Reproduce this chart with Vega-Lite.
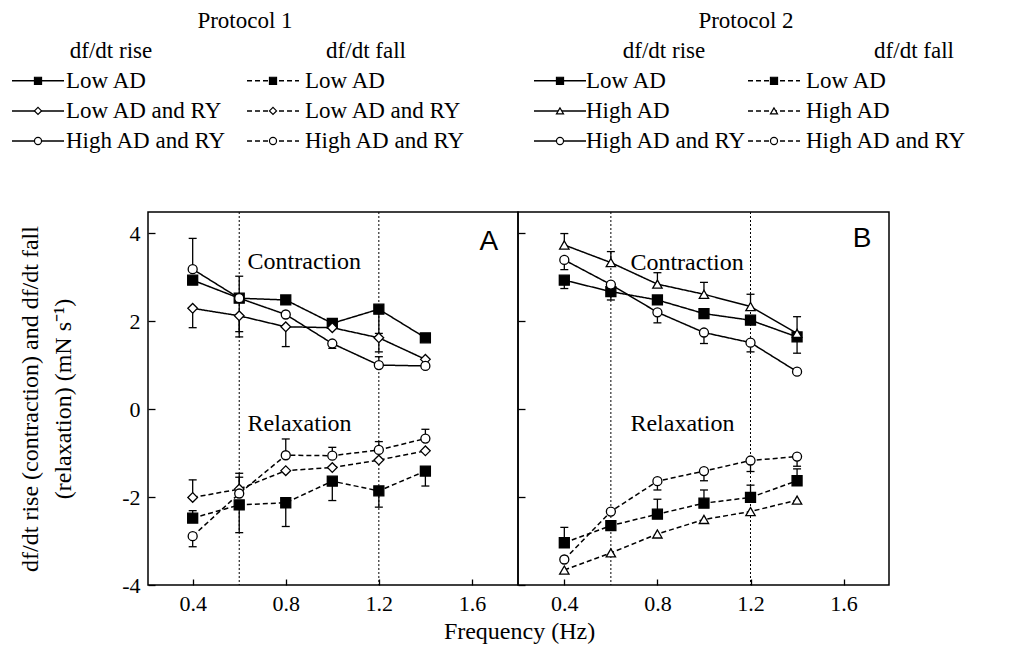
{
  "$schema": "https://vega.github.io/schema/vega-lite/v6.json",
  "background": "white",
  "padding": {"left": 8, "top": 8, "right": 5, "bottom": 0},
  "config": {
    "font": "Liberation Serif",
    "view": {"stroke": "black", "strokeWidth": 1.5},
    "axis": {"labelFont": "Liberation Serif", "labelFontSize": 22, "labelColor": "black", "titleFont": "Liberation Serif", "titleFontSize": 24, "titleFontWeight": "normal", "titleColor": "black", "tickColor": "black", "tickWidth": 1.3, "grid": false, "domain": false, "labelFlush": false, "labelOverlap": false}
  },
  "datasets": {
    "obs": [
      {"panel":"A","kind":"rise","series":"Low AD","freq":0.4,"value":2.93},
      {"panel":"A","kind":"rise","series":"Low AD","freq":0.6,"value":2.52},
      {"panel":"A","kind":"rise","series":"Low AD","freq":0.8,"value":2.48},
      {"panel":"A","kind":"rise","series":"Low AD","freq":1.0,"value":1.95},
      {"panel":"A","kind":"rise","series":"Low AD","freq":1.2,"value":2.27},
      {"panel":"A","kind":"rise","series":"Low AD","freq":1.4,"value":1.62},
      {"panel":"A","kind":"rise","series":"Low AD and RY","freq":0.4,"value":2.29},
      {"panel":"A","kind":"rise","series":"Low AD and RY","freq":0.6,"value":2.12},
      {"panel":"A","kind":"rise","series":"Low AD and RY","freq":0.8,"value":1.87},
      {"panel":"A","kind":"rise","series":"Low AD and RY","freq":1.0,"value":1.85},
      {"panel":"A","kind":"rise","series":"Low AD and RY","freq":1.2,"value":1.62},
      {"panel":"A","kind":"rise","series":"Low AD and RY","freq":1.4,"value":1.13},
      {"panel":"A","kind":"rise","series":"High AD and RY","freq":0.4,"value":3.18},
      {"panel":"A","kind":"rise","series":"High AD and RY","freq":0.6,"value":2.52},
      {"panel":"A","kind":"rise","series":"High AD and RY","freq":0.8,"value":2.15},
      {"panel":"A","kind":"rise","series":"High AD and RY","freq":1.0,"value":1.49},
      {"panel":"A","kind":"rise","series":"High AD and RY","freq":1.2,"value":1.0},
      {"panel":"A","kind":"rise","series":"High AD and RY","freq":1.4,"value":0.98},
      {"panel":"A","kind":"fall","series":"Low AD","freq":0.4,"value":-2.48},
      {"panel":"A","kind":"fall","series":"Low AD","freq":0.6,"value":-2.18},
      {"panel":"A","kind":"fall","series":"Low AD","freq":0.8,"value":-2.13},
      {"panel":"A","kind":"fall","series":"Low AD","freq":1.0,"value":-1.64},
      {"panel":"A","kind":"fall","series":"Low AD","freq":1.2,"value":-1.86},
      {"panel":"A","kind":"fall","series":"Low AD","freq":1.4,"value":-1.41},
      {"panel":"A","kind":"fall","series":"Low AD and RY","freq":0.4,"value":-2.01},
      {"panel":"A","kind":"fall","series":"Low AD and RY","freq":0.6,"value":-1.82},
      {"panel":"A","kind":"fall","series":"Low AD and RY","freq":0.8,"value":-1.4},
      {"panel":"A","kind":"fall","series":"Low AD and RY","freq":1.0,"value":-1.33},
      {"panel":"A","kind":"fall","series":"Low AD and RY","freq":1.2,"value":-1.16},
      {"panel":"A","kind":"fall","series":"Low AD and RY","freq":1.4,"value":-0.95},
      {"panel":"A","kind":"fall","series":"High AD and RY","freq":0.4,"value":-2.89},
      {"panel":"A","kind":"fall","series":"High AD and RY","freq":0.6,"value":-1.92},
      {"panel":"A","kind":"fall","series":"High AD and RY","freq":0.8,"value":-1.05},
      {"panel":"A","kind":"fall","series":"High AD and RY","freq":1.0,"value":-1.06},
      {"panel":"A","kind":"fall","series":"High AD and RY","freq":1.2,"value":-0.93},
      {"panel":"A","kind":"fall","series":"High AD and RY","freq":1.4,"value":-0.67},
      {"panel":"B","kind":"rise","series":"Low AD","freq":0.4,"value":2.93},
      {"panel":"B","kind":"rise","series":"Low AD","freq":0.6,"value":2.67},
      {"panel":"B","kind":"rise","series":"Low AD","freq":0.8,"value":2.48},
      {"panel":"B","kind":"rise","series":"Low AD","freq":1.0,"value":2.17},
      {"panel":"B","kind":"rise","series":"Low AD","freq":1.2,"value":2.02},
      {"panel":"B","kind":"rise","series":"Low AD","freq":1.4,"value":1.64},
      {"panel":"B","kind":"rise","series":"High AD","freq":0.4,"value":3.73},
      {"panel":"B","kind":"rise","series":"High AD","freq":0.6,"value":3.33},
      {"panel":"B","kind":"rise","series":"High AD","freq":0.8,"value":2.84},
      {"panel":"B","kind":"rise","series":"High AD","freq":1.0,"value":2.61},
      {"panel":"B","kind":"rise","series":"High AD","freq":1.2,"value":2.33},
      {"panel":"B","kind":"rise","series":"High AD","freq":1.4,"value":1.72},
      {"panel":"B","kind":"rise","series":"High AD and RY","freq":0.4,"value":3.39},
      {"panel":"B","kind":"rise","series":"High AD and RY","freq":0.6,"value":2.83},
      {"panel":"B","kind":"rise","series":"High AD and RY","freq":0.8,"value":2.2},
      {"panel":"B","kind":"rise","series":"High AD and RY","freq":1.0,"value":1.74},
      {"panel":"B","kind":"rise","series":"High AD and RY","freq":1.2,"value":1.51},
      {"panel":"B","kind":"rise","series":"High AD and RY","freq":1.4,"value":0.85},
      {"panel":"B","kind":"fall","series":"Low AD","freq":0.4,"value":-3.04},
      {"panel":"B","kind":"fall","series":"Low AD","freq":0.6,"value":-2.65},
      {"panel":"B","kind":"fall","series":"Low AD","freq":0.8,"value":-2.39},
      {"panel":"B","kind":"fall","series":"Low AD","freq":1.0,"value":-2.14},
      {"panel":"B","kind":"fall","series":"Low AD","freq":1.2,"value":-2.01},
      {"panel":"B","kind":"fall","series":"Low AD","freq":1.4,"value":-1.63},
      {"panel":"B","kind":"fall","series":"High AD","freq":0.4,"value":-3.66},
      {"panel":"B","kind":"fall","series":"High AD","freq":0.6,"value":-3.27},
      {"panel":"B","kind":"fall","series":"High AD","freq":0.8,"value":-2.84},
      {"panel":"B","kind":"fall","series":"High AD","freq":1.0,"value":-2.51},
      {"panel":"B","kind":"fall","series":"High AD","freq":1.2,"value":-2.33},
      {"panel":"B","kind":"fall","series":"High AD","freq":1.4,"value":-2.07},
      {"panel":"B","kind":"fall","series":"High AD and RY","freq":0.4,"value":-3.42},
      {"panel":"B","kind":"fall","series":"High AD and RY","freq":0.6,"value":-2.33},
      {"panel":"B","kind":"fall","series":"High AD and RY","freq":0.8,"value":-1.64},
      {"panel":"B","kind":"fall","series":"High AD and RY","freq":1.0,"value":-1.41},
      {"panel":"B","kind":"fall","series":"High AD and RY","freq":1.2,"value":-1.17},
      {"panel":"B","kind":"fall","series":"High AD and RY","freq":1.4,"value":-1.08}
    ],
    "err": [
      {"panel":"A","kind":"rise","series":"High AD and RY","freq":0.4,"value":3.18,"end":3.88},
      {"panel":"A","kind":"rise","series":"Low AD and RY","freq":0.4,"value":2.29,"end":1.85},
      {"panel":"A","kind":"rise","series":"Low AD","freq":0.6,"value":2.52,"end":3.02},
      {"panel":"A","kind":"rise","series":"Low AD and RY","freq":0.6,"value":2.12,"end":1.64},
      {"panel":"A","kind":"rise","series":"High AD and RY","freq":0.6,"value":2.52,"end":1.76},
      {"panel":"A","kind":"rise","series":"Low AD and RY","freq":0.8,"value":1.87,"end":1.42},
      {"panel":"A","kind":"rise","series":"High AD and RY","freq":1.0,"value":1.49,"end":1.38},
      {"panel":"A","kind":"rise","series":"Low AD","freq":1.2,"value":2.27,"end":1.72},
      {"panel":"A","kind":"rise","series":"Low AD and RY","freq":1.2,"value":1.62,"end":1.3},
      {"panel":"A","kind":"rise","series":"High AD and RY","freq":1.2,"value":1.0,"end":1.19},
      {"panel":"A","kind":"fall","series":"Low AD and RY","freq":0.4,"value":-2.01,"end":-1.61},
      {"panel":"A","kind":"fall","series":"Low AD","freq":0.4,"value":-2.48,"end":-2.31},
      {"panel":"A","kind":"fall","series":"High AD and RY","freq":0.4,"value":-2.89,"end":-3.13},
      {"panel":"A","kind":"fall","series":"High AD and RY","freq":0.6,"value":-1.92,"end":-1.46},
      {"panel":"A","kind":"fall","series":"Low AD and RY","freq":0.6,"value":-1.82,"end":-1.55},
      {"panel":"A","kind":"fall","series":"Low AD","freq":0.6,"value":-2.18,"end":-2.81},
      {"panel":"A","kind":"fall","series":"High AD and RY","freq":0.8,"value":-1.05,"end":-0.68},
      {"panel":"A","kind":"fall","series":"Low AD","freq":0.8,"value":-2.13,"end":-2.67},
      {"panel":"A","kind":"fall","series":"High AD and RY","freq":1.0,"value":-1.06,"end":-0.87},
      {"panel":"A","kind":"fall","series":"Low AD","freq":1.0,"value":-1.64,"end":-2.08},
      {"panel":"A","kind":"fall","series":"High AD and RY","freq":1.2,"value":-0.93,"end":-0.74},
      {"panel":"A","kind":"fall","series":"Low AD","freq":1.2,"value":-1.86,"end":-2.23},
      {"panel":"A","kind":"fall","series":"High AD and RY","freq":1.4,"value":-0.67,"end":-0.46},
      {"panel":"A","kind":"fall","series":"Low AD","freq":1.4,"value":-1.41,"end":-1.75},
      {"panel":"B","kind":"rise","series":"High AD","freq":0.4,"value":3.73,"end":3.99},
      {"panel":"B","kind":"rise","series":"High AD and RY","freq":0.4,"value":3.39,"end":3.17},
      {"panel":"B","kind":"rise","series":"Low AD","freq":0.4,"value":2.93,"end":2.74},
      {"panel":"B","kind":"rise","series":"High AD","freq":0.6,"value":3.33,"end":3.58},
      {"panel":"B","kind":"rise","series":"Low AD","freq":0.6,"value":2.67,"end":2.48},
      {"panel":"B","kind":"rise","series":"High AD","freq":0.8,"value":2.84,"end":3.1},
      {"panel":"B","kind":"rise","series":"High AD and RY","freq":0.8,"value":2.2,"end":1.96},
      {"panel":"B","kind":"rise","series":"High AD","freq":1.0,"value":2.61,"end":2.88},
      {"panel":"B","kind":"rise","series":"High AD and RY","freq":1.0,"value":1.74,"end":1.49},
      {"panel":"B","kind":"rise","series":"High AD","freq":1.2,"value":2.33,"end":2.61},
      {"panel":"B","kind":"rise","series":"High AD and RY","freq":1.2,"value":1.51,"end":1.3},
      {"panel":"B","kind":"rise","series":"Low AD","freq":1.4,"value":1.64,"end":2.1},
      {"panel":"B","kind":"rise","series":"Low AD","freq":1.4,"value":1.64,"end":1.27},
      {"panel":"B","kind":"fall","series":"Low AD","freq":0.4,"value":-3.04,"end":-2.69},
      {"panel":"B","kind":"fall","series":"High AD and RY","freq":0.8,"value":-1.64,"end":-1.84},
      {"panel":"B","kind":"fall","series":"Low AD","freq":0.8,"value":-2.39,"end":-2.05},
      {"panel":"B","kind":"fall","series":"High AD and RY","freq":1.0,"value":-1.41,"end":-1.63},
      {"panel":"B","kind":"fall","series":"Low AD","freq":1.0,"value":-2.14,"end":-1.84},
      {"panel":"B","kind":"fall","series":"High AD and RY","freq":1.2,"value":-1.17,"end":-1.42},
      {"panel":"B","kind":"fall","series":"Low AD","freq":1.2,"value":-2.01,"end":-1.73},
      {"panel":"B","kind":"fall","series":"High AD and RY","freq":1.4,"value":-1.08,"end":-1.3},
      {"panel":"B","kind":"fall","series":"Low AD","freq":1.4,"value":-1.63,"end":-1.36}
    ],
    "vlines": [{"freq":0.6},{"freq":1.2}],
    "legend": [
      {"protocol":"Protocol 1","kind":"rise","series":"Low AD","row":1},
      {"protocol":"Protocol 1","kind":"rise","series":"Low AD and RY","row":2},
      {"protocol":"Protocol 1","kind":"rise","series":"High AD and RY","row":3},
      {"protocol":"Protocol 1","kind":"fall","series":"Low AD","row":1},
      {"protocol":"Protocol 1","kind":"fall","series":"Low AD and RY","row":2},
      {"protocol":"Protocol 1","kind":"fall","series":"High AD and RY","row":3},
      {"protocol":"Protocol 2","kind":"rise","series":"Low AD","row":1},
      {"protocol":"Protocol 2","kind":"rise","series":"High AD","row":2},
      {"protocol":"Protocol 2","kind":"rise","series":"High AD and RY","row":3},
      {"protocol":"Protocol 2","kind":"fall","series":"Low AD","row":1},
      {"protocol":"Protocol 2","kind":"fall","series":"High AD","row":2},
      {"protocol":"Protocol 2","kind":"fall","series":"High AD and RY","row":3}
    ],
    "legendHeads": [
      {"protocol":"Protocol 1","kind":"rise","label":"df/dt rise"},
      {"protocol":"Protocol 1","kind":"fall","label":"df/dt fall"},
      {"protocol":"Protocol 2","kind":"rise","label":"df/dt rise"},
      {"protocol":"Protocol 2","kind":"fall","label":"df/dt fall"}
    ],
    "protocols": [{"protocol":"Protocol 1"},{"protocol":"Protocol 2"}]
  },
  "hconcat": [
    {
      "width": 370,
      "height": 373,
      "layer": [
        {
          "layer": [
            {
              "data": {"name": "vlines"},
              "mark": {"type": "rule", "strokeDash": [2, 2], "strokeWidth": 1, "color": "black"},
              "encoding": {
                "x": {"field": "freq", "type": "quantitative", "scale": {"domain": [0.208, 1.798], "nice": false, "zero": false},
                  "axis": {"values": [0.4, 0.8, 1.2, 1.6], "format": ".1f", "tickSize": -6, "labelPadding": 14, "title": "Frequency (Hz)", "titleX": 371, "titlePadding": 5}}
              }
            },
            {
              "data": {"name": "err"},
              "transform": [{"filter": "datum.panel == 'A'"}],
              "mark": {"type": "rule", "strokeWidth": 1.3, "color": "black"},
              "encoding": {
                "x": {"field": "freq", "type": "quantitative"},
                "y": {"field": "value", "type": "quantitative", "scale": {"domain": [-4, 4.48], "nice": false, "zero": false},
                  "axis": {"values": [-4, -2, 0, 2, 4], "tickSize": -7, "labelPadding": 15, "labelExpr": "replace(datum.label, '−', '-')", "title": ["df/dt rise (contraction) and df/dt fall", "(relaxation) (mN s⁻¹)"], "titlePadding": 46, "titleLineHeight": 33}},
                "y2": {"field": "end"}
              }
            },
            {
              "data": {"name": "err"},
              "transform": [{"filter": "datum.panel == 'A'"}],
              "mark": {"type": "tick", "orient": "horizontal", "size": 8, "thickness": 1.3, "color": "black", "opacity": 1},
              "encoding": {
                "x": {"field": "freq", "type": "quantitative"},
                "y": {"field": "end", "type": "quantitative"}
              }
            },
            {
              "data": {"name": "obs"},
              "transform": [{"filter": "datum.panel == 'A'"}],
              "mark": {"type": "line", "strokeWidth": 1.5, "color": "black"},
              "encoding": {
                "x": {"field": "freq", "type": "quantitative"},
                "y": {"field": "value", "type": "quantitative"},
                "detail": {"field": "series"},
                "strokeDash": {"field": "kind", "type": "nominal", "scale": {"domain": ["rise", "fall"], "range": [[1, 0], [5, 3]]}, "legend": null}
              }
            },
            {
              "data": {"name": "obs"},
              "transform": [{"filter": "datum.panel == 'A'"}],
              "mark": {"type": "point", "filled": true, "stroke": "black", "strokeWidth": 1.3, "opacity": 1},
              "encoding": {
                "x": {"field": "freq", "type": "quantitative"},
                "y": {"field": "value", "type": "quantitative"},
                "shape": {"field": "series", "type": "nominal", "scale": {"domain": ["Low AD", "Low AD and RY", "High AD", "High AD and RY"], "range": ["square", "diamond", "triangle-up", "circle"]}, "legend": null},
                "fill": {"field": "series", "type": "nominal", "scale": {"domain": ["Low AD", "Low AD and RY", "High AD", "High AD and RY"], "range": ["black", "white", "white", "white"]}, "legend": null},
                "size": {"field": "series", "type": "nominal", "scale": {"domain": ["Low AD", "Low AD and RY", "High AD", "High AD and RY"], "range": [100, 81, 100, 81]}, "legend": null}
              }
            },
            {
              "data": {"values": [{}]},
              "mark": {"type": "text", "align": "left", "baseline": "middle", "fontSize": 24, "font": "Liberation Serif"},
              "encoding": {"x": {"datum": 0.636, "type": "quantitative"}, "y": {"datum": 3.34, "type": "quantitative"}, "text": {"value": "Contraction"}}
            },
            {
              "data": {"values": [{}]},
              "mark": {"type": "text", "align": "left", "baseline": "middle", "fontSize": 24, "font": "Liberation Serif"},
              "encoding": {"x": {"datum": 0.636, "type": "quantitative"}, "y": {"datum": -0.33, "type": "quantitative"}, "text": {"value": "Relaxation"}}
            },
            {
              "data": {"values": [{}]},
              "mark": {"type": "text", "align": "center", "baseline": "middle", "fontSize": 28, "font": "Liberation Sans"},
              "encoding": {"x": {"datum": 1.673, "type": "quantitative"}, "y": {"datum": 3.8, "type": "quantitative"}, "text": {"value": "A"}}
            }
          ]
        },
        {
          "data": {"name": "legend"},
          "transform": [{"filter": "datum.protocol == 'Protocol 1'"}],
          "encoding": {
            "x": {"field": "kind", "type": "nominal", "scale": {"type": "point", "domain": ["rise", "fall"], "range": [-110, 125], "padding": 0}, "axis": null},
            "y": {"field": "row", "type": "quantitative", "scale": {"domain": [-1, 3], "range": [-191.4, -71], "nice": false, "zero": false}, "axis": null}
          },
          "layer": [
            {
              "mark": {"type": "point", "shape": "M-1,0L1,0", "size": 2704, "filled": false, "stroke": "black", "strokeWidth": 1.5, "opacity": 1},
              "encoding": {"strokeDash": {"field": "kind", "type": "nominal", "scale": {"domain": ["rise", "fall"], "range": [[1, 0], [5, 3]]}, "legend": null}}
            },
            {
              "mark": {"type": "point", "filled": true, "stroke": "black", "strokeWidth": 1.2, "size": 50, "opacity": 1},
              "encoding": {
                "shape": {"field": "series", "type": "nominal", "scale": {"domain": ["Low AD", "Low AD and RY", "High AD", "High AD and RY"], "range": ["square", "diamond", "triangle-up", "circle"]}, "legend": null},
                "fill": {"field": "series", "type": "nominal", "scale": {"domain": ["Low AD", "Low AD and RY", "High AD", "High AD and RY"], "range": ["black", "white", "white", "white"]}, "legend": null}
              }
            },
            {
              "transform": [{"filter": "datum.kind == 'rise'"}],
              "mark": {"type": "text", "align": "left", "baseline": "middle", "dx": 28, "fontSize": 23, "font": "Liberation Serif"},
              "encoding": {"text": {"field": "series"}}
            },
            {
              "transform": [{"filter": "datum.kind == 'fall'"}],
              "mark": {"type": "text", "align": "left", "baseline": "middle", "dx": 32, "fontSize": 23, "font": "Liberation Serif"},
              "encoding": {"text": {"field": "series"}}
            }
          ]
        },
        {
          "data": {"name": "legend"},
          "transform": [{"filter": "datum.protocol == 'Protocol 2'"}],
          "encoding": {
            "x": {"field": "kind", "type": "nominal", "scale": {"type": "point", "domain": ["rise", "fall"], "range": [412, 626], "padding": 0}, "axis": null},
            "y": {"field": "row", "type": "quantitative", "scale": {"domain": [-1, 3], "range": [-191.4, -71], "nice": false, "zero": false}, "axis": null}
          },
          "layer": [
            {
              "mark": {"type": "point", "shape": "M-1,0L1,0", "size": 2704, "filled": false, "stroke": "black", "strokeWidth": 1.5, "opacity": 1},
              "encoding": {"strokeDash": {"field": "kind", "type": "nominal", "scale": {"domain": ["rise", "fall"], "range": [[1, 0], [5, 3]]}, "legend": null}}
            },
            {
              "mark": {"type": "point", "filled": true, "stroke": "black", "strokeWidth": 1.2, "size": 50, "opacity": 1},
              "encoding": {
                "shape": {"field": "series", "type": "nominal", "scale": {"domain": ["Low AD", "Low AD and RY", "High AD", "High AD and RY"], "range": ["square", "diamond", "triangle-up", "circle"]}, "legend": null},
                "fill": {"field": "series", "type": "nominal", "scale": {"domain": ["Low AD", "Low AD and RY", "High AD", "High AD and RY"], "range": ["black", "white", "white", "white"]}, "legend": null}
              }
            },
            {
              "transform": [{"filter": "datum.kind == 'rise'"}],
              "mark": {"type": "text", "align": "left", "baseline": "middle", "dx": 26, "fontSize": 23, "font": "Liberation Serif"},
              "encoding": {"text": {"field": "series"}}
            },
            {
              "transform": [{"filter": "datum.kind == 'fall'"}],
              "mark": {"type": "text", "align": "left", "baseline": "middle", "dx": 32, "fontSize": 23, "font": "Liberation Serif"},
              "encoding": {"text": {"field": "series"}}
            }
          ]
        },
        {
          "data": {"name": "legendHeads"},
          "transform": [{"filter": "datum.protocol == 'Protocol 1'"}],
          "mark": {"type": "text", "align": "center", "baseline": "middle", "fontSize": 23, "font": "Liberation Serif"},
          "encoding": {
            "x": {"field": "kind", "type": "nominal", "scale": {"type": "point", "domain": ["rise", "fall"], "range": [-37, 218], "padding": 0}, "axis": null},
            "y": {"datum": 0, "type": "quantitative", "scale": {"domain": [-1, 3], "range": [-191.4, -71], "nice": false, "zero": false}, "axis": null},
            "text": {"field": "label"}
          }
        },
        {
          "data": {"name": "legendHeads"},
          "transform": [{"filter": "datum.protocol == 'Protocol 2'"}],
          "mark": {"type": "text", "align": "center", "baseline": "middle", "fontSize": 23, "font": "Liberation Serif"},
          "encoding": {
            "x": {"field": "kind", "type": "nominal", "scale": {"type": "point", "domain": ["rise", "fall"], "range": [516, 766], "padding": 0}, "axis": null},
            "y": {"datum": 0, "type": "quantitative", "scale": {"domain": [-1, 3], "range": [-191.4, -71], "nice": false, "zero": false}, "axis": null},
            "text": {"field": "label"}
          }
        },
        {
          "data": {"name": "protocols"},
          "mark": {"type": "text", "align": "center", "baseline": "middle", "fontSize": 23, "font": "Liberation Serif"},
          "encoding": {
            "x": {"field": "protocol", "type": "nominal", "scale": {"type": "point", "domain": ["Protocol 1", "Protocol 2"], "range": [97, 598], "padding": 0}, "axis": null},
            "y": {"datum": -1, "type": "quantitative", "scale": {"domain": [-1, 3], "range": [-191.4, -71], "nice": false, "zero": false}, "axis": null},
            "text": {"field": "protocol"}
          }
        }
      ],
      "resolve": {"scale": {"x": "independent", "y": "independent"}}
    },
    {
      "width": 371,
      "height": 373,
      "layer": [
        {
          "data": {"name": "vlines"},
          "mark": {"type": "rule", "strokeDash": [2, 2], "strokeWidth": 1, "color": "black"},
          "encoding": {
            "x": {"field": "freq", "type": "quantitative", "scale": {"domain": [0.201, 1.795], "nice": false, "zero": false},
              "axis": {"values": [0.4, 0.8, 1.2, 1.6], "format": ".1f", "tickSize": -6, "labelPadding": 14, "title": null}}
          }
        },
        {
          "data": {"name": "err"},
          "transform": [{"filter": "datum.panel == 'B'"}],
          "mark": {"type": "rule", "strokeWidth": 1.3, "color": "black"},
          "encoding": {
            "x": {"field": "freq", "type": "quantitative"},
            "y": {"field": "value", "type": "quantitative", "scale": {"domain": [-4, 4.48], "nice": false, "zero": false},
              "axis": {"values": [-4, -2, 0, 2, 4], "tickSize": -7, "labels": false, "title": null}},
            "y2": {"field": "end"}
          }
        },
        {
          "data": {"name": "err"},
          "transform": [{"filter": "datum.panel == 'B'"}],
          "mark": {"type": "tick", "orient": "horizontal", "size": 8, "thickness": 1.3, "color": "black", "opacity": 1},
          "encoding": {
            "x": {"field": "freq", "type": "quantitative"},
            "y": {"field": "end", "type": "quantitative"}
          }
        },
        {
          "data": {"name": "obs"},
          "transform": [{"filter": "datum.panel == 'B'"}],
          "mark": {"type": "line", "strokeWidth": 1.5, "color": "black"},
          "encoding": {
            "x": {"field": "freq", "type": "quantitative"},
            "y": {"field": "value", "type": "quantitative"},
            "detail": {"field": "series"},
            "strokeDash": {"field": "kind", "type": "nominal", "scale": {"domain": ["rise", "fall"], "range": [[1, 0], [5, 3]]}, "legend": null}
          }
        },
        {
          "data": {"name": "obs"},
          "transform": [{"filter": "datum.panel == 'B'"}],
          "mark": {"type": "point", "filled": true, "stroke": "black", "strokeWidth": 1.3, "opacity": 1},
          "encoding": {
            "x": {"field": "freq", "type": "quantitative"},
            "y": {"field": "value", "type": "quantitative"},
            "shape": {"field": "series", "type": "nominal", "scale": {"domain": ["Low AD", "Low AD and RY", "High AD", "High AD and RY"], "range": ["square", "diamond", "triangle-up", "circle"]}, "legend": null},
            "fill": {"field": "series", "type": "nominal", "scale": {"domain": ["Low AD", "Low AD and RY", "High AD", "High AD and RY"], "range": ["black", "white", "white", "white"]}, "legend": null},
            "size": {"field": "series", "type": "nominal", "scale": {"domain": ["Low AD", "Low AD and RY", "High AD", "High AD and RY"], "range": [100, 81, 100, 81]}, "legend": null}
          }
        },
        {
          "data": {"values": [{}]},
          "mark": {"type": "text", "align": "left", "baseline": "middle", "fontSize": 24, "font": "Liberation Serif"},
          "encoding": {"x": {"datum": 0.684, "type": "quantitative"}, "y": {"datum": 3.31, "type": "quantitative"}, "text": {"value": "Contraction"}}
        },
        {
          "data": {"values": [{}]},
          "mark": {"type": "text", "align": "left", "baseline": "middle", "fontSize": 24, "font": "Liberation Serif"},
          "encoding": {"x": {"datum": 0.684, "type": "quantitative"}, "y": {"datum": -0.33, "type": "quantitative"}, "text": {"value": "Relaxation"}}
        },
        {
          "data": {"values": [{}]},
          "mark": {"type": "text", "align": "center", "baseline": "middle", "fontSize": 28, "font": "Liberation Sans"},
          "encoding": {"x": {"datum": 1.679, "type": "quantitative"}, "y": {"datum": 3.86, "type": "quantitative"}, "text": {"value": "B"}}
        }
      ]
    }
  ],
  "spacing": 0,
  "bounds": "flush"
}
